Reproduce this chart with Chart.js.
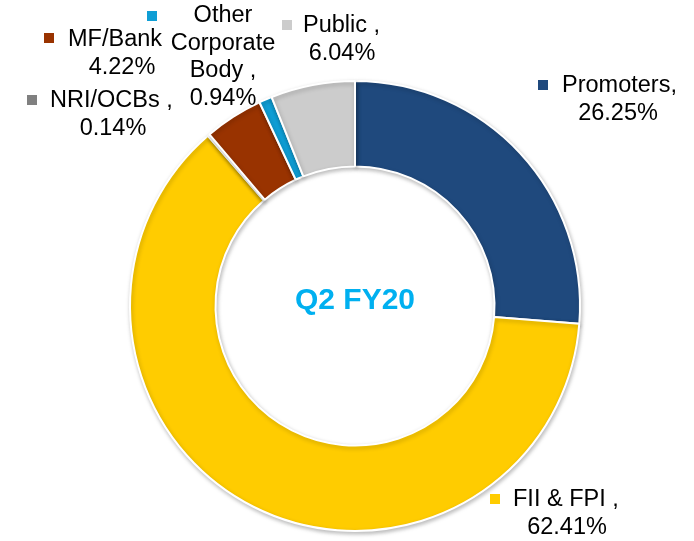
<!DOCTYPE html>
<html>
<head>
<meta charset="utf-8">
<script src="https://cdn.jsdelivr.net/npm/chart.js@4"></script>
<style>
    html, body { margin: 0; padding: 0; background: #fff; }
    #wrap { width: 694px; height: 541px; position: relative; }
</style>
</head>
<body>
<div id="wrap"><canvas id="ShareChart"></canvas></div>
<script>
// shareholding pattern, clockwise from 12 o'clock
var categories = ['Promoters', 'FII & FPI', 'NRI/OCBs', 'MF/Bank', 'Other Corporate Body', 'Public'];
var shares = [26.25, 62.41, 0.14, 4.22, 0.94, 6.04];
var sliceColors = ['#1f497d', '#ffcc00', '#808080', '#993300', '#0f9ed5', '#cccccc'];
var centerTitle = 'Q2 FY20';

// label text lines for each slice (same order as categories)
var labelLines = [
    ['Promoters,', '26.25%'],
    ['FII & FPI ,', '62.41%'],
    ['NRI/OCBs ,', '0.14%'],
    ['MF/Bank', '4.22%'],
    ['Other', 'Corporate', 'Body ,', '0.94%'],
    ['Public ,', '6.04%']
];

drawShareChart();
function drawShareChart() {
    var ctx = document.getElementById('ShareChart');

    // where each outside label sits: marker box (mx,my), first line left (tx), centred lines (cx), first line middle (y)
    var labelPos = [
        { mx: 538, my: 80, tx: 562, cx: 618, y: 86 },
        { mx: 490, my: 494, tx: 513, cx: 567, y: 500 },
        { mx: 27, my: 95, tx: 50, cx: 113, y: 101 },
        { mx: 44, my: 33, tx: 68, cx: 122, y: 40 },
        { mx: 147, my: 11, tx: null, cx: 223, y: 16 },
        { mx: 282, my: 20, tx: 303, cx: 342, y: 26 }
    ];

    var shadowPlugin = {
        id: 'ringShadow',
        beforeDatasetsDraw: function (chart) {
            var c = chart.ctx;
            c.save();
            c.shadowColor = 'rgba(0,0,0,0.25)';
            c.shadowBlur = 4;
            c.shadowOffsetX = 1;
            c.shadowOffsetY = 2;
        },
        afterDatasetsDraw: function (chart) {
            chart.ctx.restore();
        }
    };

    var labelPlugin = {
        id: 'outsideLabels',
        afterDraw: function (chart) {
            var c = chart.ctx;
            var arc = chart.getDatasetMeta(0).data[0];
            c.save();
            // centre title
            c.font = 'bold 30px "Liberation Sans", Arial, sans-serif';
            c.fillStyle = '#00b0f0';
            c.textAlign = 'center';
            c.textBaseline = 'middle';
            c.fillText(centerTitle, arc.x, arc.y - 5);

            c.font = '23.5px "Liberation Sans", Arial, sans-serif';
            labelLines.forEach(function (lines, i) {
                var p = labelPos[i];
                c.fillStyle = sliceColors[i];
                c.fillRect(p.mx, p.my, 10, 10);
                c.fillStyle = '#000';
                lines.forEach(function (t, j) {
                    if (j === 0 && p.tx !== null) {
                        c.textAlign = 'left';
                        c.fillText(t, p.tx, p.y);
                    } else {
                        c.textAlign = 'center';
                        c.fillText(t, p.cx, p.y + j * 27.5);
                    }
                });
            });
            c.restore();
        }
    };

    var data = {
        labels: categories,
        datasets: [{
            data: shares,
            backgroundColor: sliceColors,
            borderColor: '#ffffff',
            borderWidth: 2
        }]
    };

    const config = {
        type: 'doughnut',
        data: data,
        options: {
            responsive: true,
            maintainAspectRatio: false,
            animation: false,
            cutout: '62%',
            layout: {
                padding: { left: 129, right: 113, top: 80, bottom: 9 }
            },
            plugins: {
                legend: { display: false },
                tooltip: { enabled: false }
            }
        },
        plugins: [shadowPlugin, labelPlugin]
    };

    var myChart = new Chart(ctx, config);
}
</script>
</body>
</html>
